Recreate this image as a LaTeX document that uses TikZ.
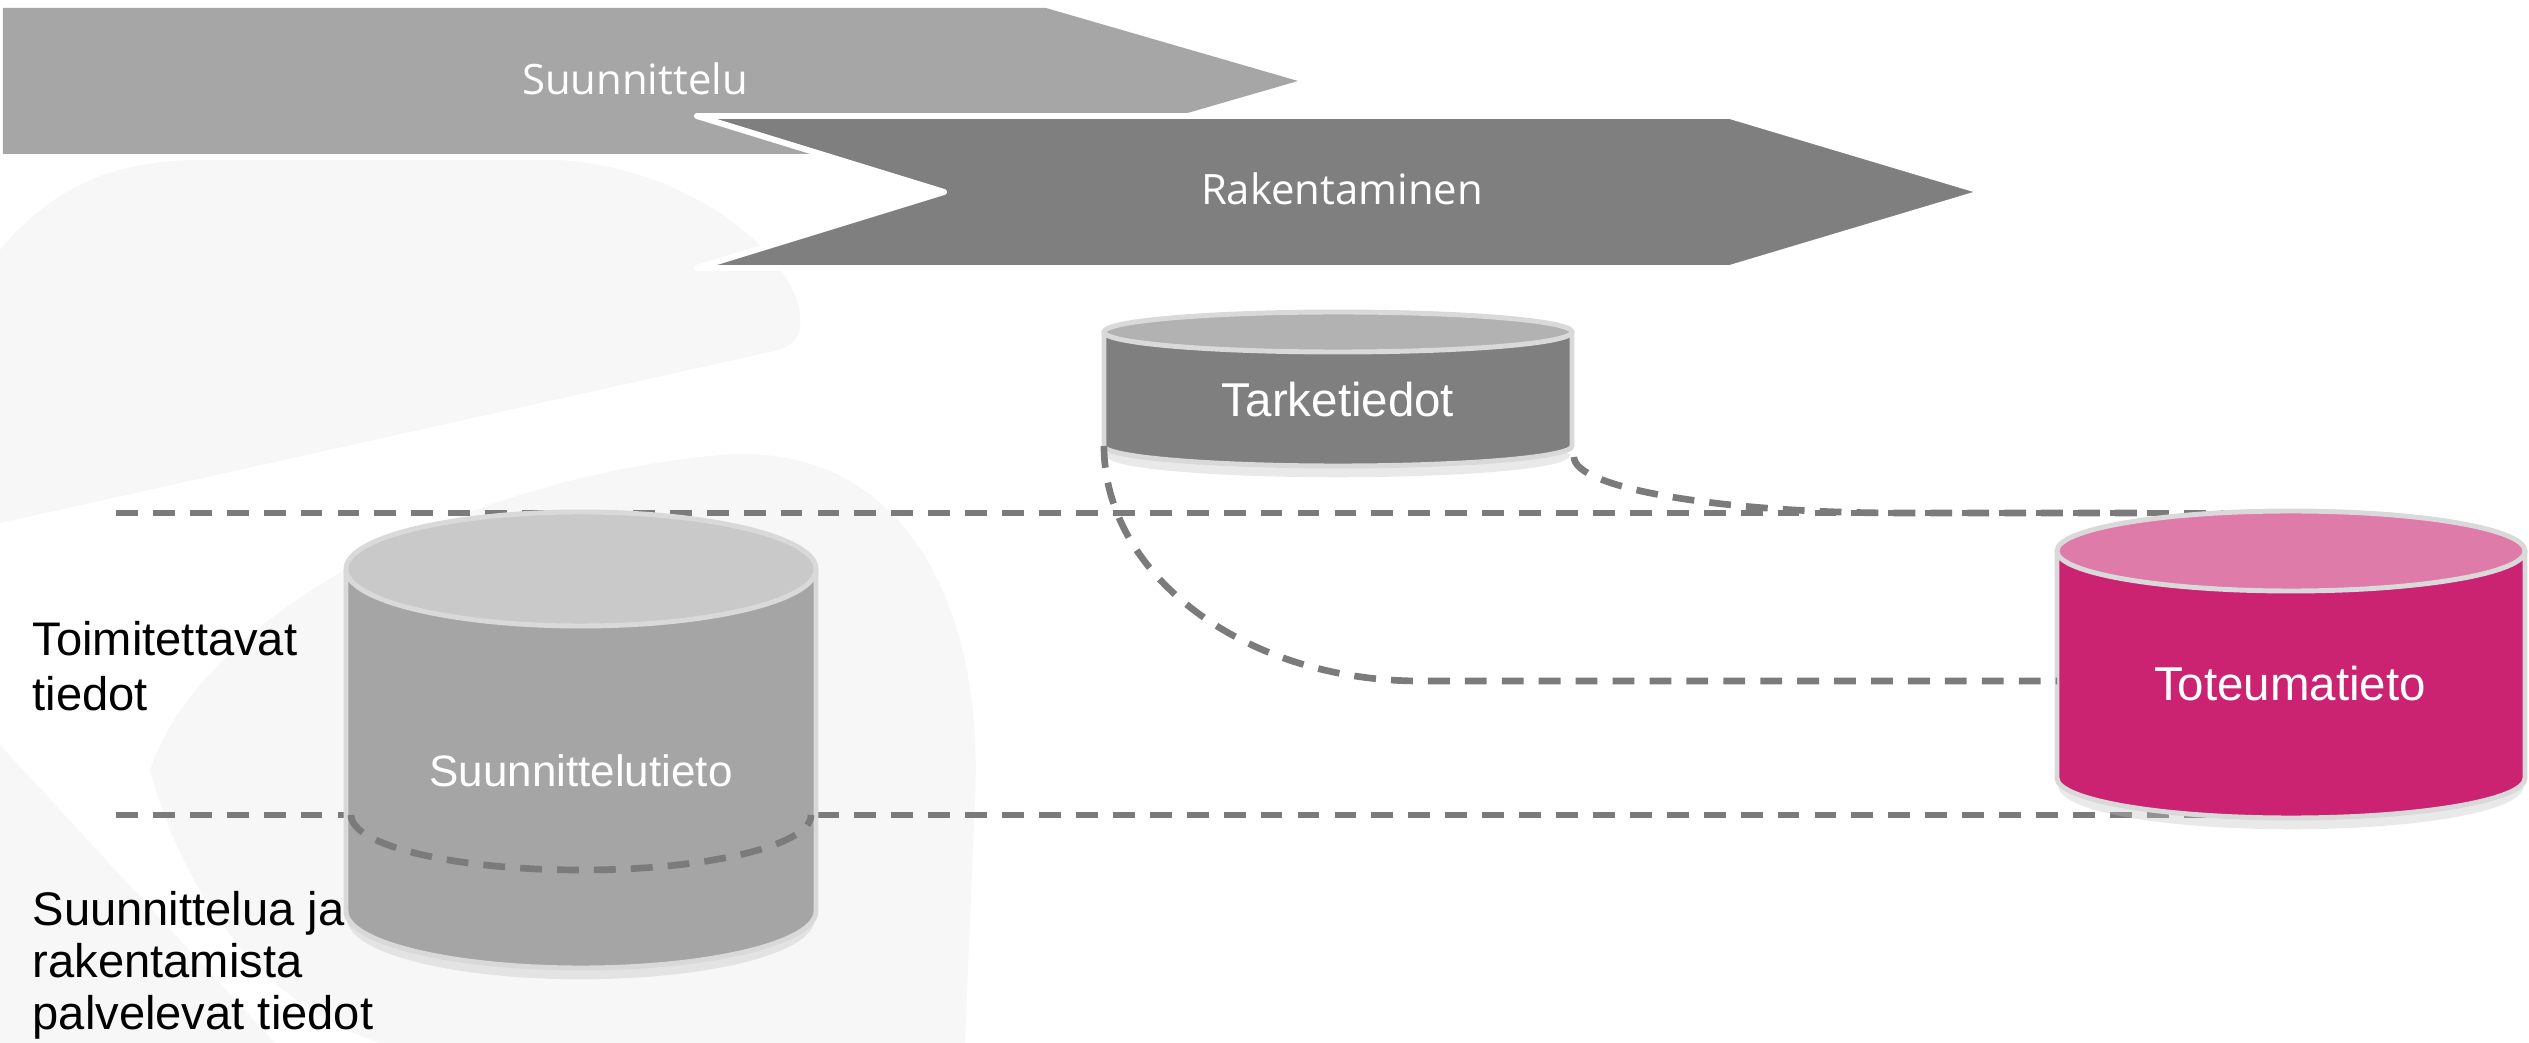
\documentclass[tikz,border=0pt]{standalone}
\usepackage{fontspec}
\newfontfamily\arialf{Liberation Sans}
\newfontfamily\opensf{Open Sans}
\definecolor{bgshape}{HTML}{F7F7F7}
\definecolor{chevA}{HTML}{A6A6A6}
\definecolor{chevB}{HTML}{7F7F7F}
\definecolor{dashc}{HTML}{7B7B7B}
\definecolor{cylrim}{HTML}{D9D9D9}
\definecolor{sTop}{HTML}{C9C9C9}
\definecolor{sBody}{HTML}{A5A5A5}
\definecolor{tTop}{HTML}{B2B2B2}
\definecolor{tBody}{HTML}{7F7F7F}
\definecolor{pTop}{HTML}{DF7BA8}
\definecolor{pBody}{HTML}{CB2272}
\newcommand\drawcyl[7]{%
  \draw[cylshadow] (#1-#2+6,#4+6) arc[start angle=180,end angle=0,x radius=#2-6,y radius=#5];
  \fill[#7] (#1-#2,#3) -- (#1-#2,#4) arc[start angle=180,end angle=0,x radius=#2,y radius=#5] -- (#1+#2,#3) -- cycle;
  \draw[rim] (#1-#2,#3) -- (#1-#2,#4) arc[start angle=180,end angle=0,x radius=#2,y radius=#5] -- (#1+#2,#3);
  \filldraw[rim,fill=#6] (#1,#3) ellipse[x radius=#2,y radius=#5];
}
\begin{document}
\begin{tikzpicture}[x=0.01cm,y=-0.01cm,
  dashline/.style={draw=dashc,line width=1.9pt,dash pattern=on 6.2pt off 4.3pt},
  rim/.style={draw=cylrim,line width=1.4pt},
  cylshadow/.style={draw=black!25,line width=3pt,opacity=0.35},
  cyltext/.style={text=white,font=\arialf\fontsize{13.5}{16}\selectfont,inner sep=0pt,anchor=base},
  chevtext/.style={text=white,font=\opensf\fontsize{11.9}{14}\selectfont,inner sep=0pt,anchor=base},
  sidelabel/.style={font=\arialf\fontsize{13.4}{15.6}\selectfont,align=left,inner sep=0pt,anchor=north west}]
\useasboundingbox (0,0) rectangle (2529,1043);
% faint background watermark
\fill[bgshape] (0,250) .. controls (50,190) and (110,160) .. (200,160) -- (560,160)
  .. controls (700,170) and (795,260) .. (800,315) .. controls (803,340) and (790,348) .. (770,352) -- (0,523) -- cycle;
\fill[bgshape] (150,770) .. controls (200,620) and (450,480) .. (720,455)
  .. controls (900,440) and (985,600) .. (975,800) -- (965,1043) -- (380,1043)
  .. controls (250,1000) and (180,880) .. cycle;
\fill[bgshape] (0,745) -- (275,1043) -- (0,1043) -- cycle;
% phase chevrons
\fill[chevA] (3,8) -- (1046,8) -- (1298,81) -- (1046,154) -- (3,154) -- cycle;
\filldraw[fill=chevB,draw=white,line width=1.7pt,line join=round]
  (697,116) -- (1730,116) -- (1984,192) -- (1730,268) -- (697,268) -- (944,192) -- cycle;
\node[chevtext] (suun) at (635,95) {Suunnittelu};
\node[chevtext] (rak) at (1342,205) {Rakentaminen};
% anchor coordinates
\coordinate (lineL1) at (116,513);
\coordinate (lineR1) at (2288,513);
\coordinate (lineL2) at (116,815);
\coordinate (lineR2) at (2288,815);
\coordinate (sArcL) at (351,815);
\coordinate (tarkBL) at (1104,446);
\coordinate (tarkBR) at (1574,457);
\coordinate (totoW) at (2057,681);
\coordinate (totoNW) at (2150,513);
% dashed level lines (behind the cylinders)
\draw[dashline] (lineL1) -- (lineR1);
\draw[dashline] (lineL2) -- (lineR2);
% cylinders
\drawcyl{581}{235}{569}{911}{57}{sTop}{sBody}
\drawcyl{1338}{234}{332}{446}{20}{tTop}{tBody}
\drawcyl{2291}{234}{551}{778}{40}{pTop}{pBody}
% dashed connectors
\draw[dashline] (sArcL) arc[start angle=180,end angle=0,x radius=230,y radius=55];
\draw[dashline] (tarkBL) arc[start angle=180,end angle=90,x radius=316,y radius=235] -- (totoW);
\draw[dashline] (tarkBR) arc[start angle=180,end angle=90,x radius=326,y radius=56] -- (totoNW);
% cylinder labels
\node[cyltext,font=\arialf\fontsize{12.5}{15}\selectfont] (suuntieto) at (581,787) {Suunnittelutieto};
\node[cyltext] (tarke) at (1338,417) {Tarketiedot};
\node[cyltext] (toteuma) at (2290,701) {Toteumatieto};
% side labels
\node[sidelabel] (toim) at (32,621) {Toimitettavat\\tiedot};
\node[sidelabel,font=\arialf\fontsize{13.4}{14.8}\selectfont] (palv) at (32,891) {Suunnittelua ja\\rakentamista\\palvelevat tiedot};
\end{tikzpicture}
\end{document}
